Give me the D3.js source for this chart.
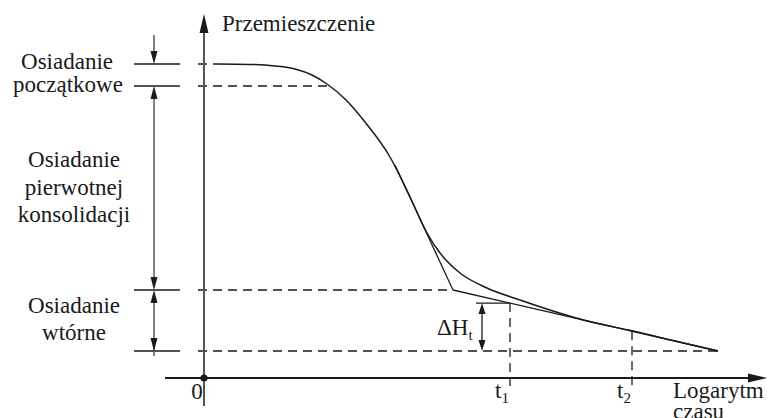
<!DOCTYPE html>
<html>
<head>
<meta charset="utf-8">
<script src="https://cdn.jsdelivr.net/npm/d3@7"></script>
<style>
  html, body { margin: 0; padding: 0; background: #fff; }
  svg { display: block; }
  text { font-family: "Liberation Serif", "DejaVu Serif", "Times New Roman", serif; }
</style>
</head>
<body>
<div id="chart"></div>
<script>
/* settlement vs. log-time schematic (Polish labels) */

/* consolidation curve, log time vs displacement (schematic units) */
var curveT = [1.3, 4.6, 7.1, 9.1, 10.8, 12.3, 14.1, 16.1, 18.6, 20.6, 22.3, 23.6, 25.6, 28.3, 31.6, 34.9, 38.3, 42.9, 47.1, 51.4];
var curveS = [31.4, 31.36, 31.2, 30.9, 30.3, 29.4, 27.9, 25.6, 22.1, 18.1, 14.5, 12.5, 10.5, 9.0, 7.8, 6.7, 5.7, 4.7, 3.7, 2.7];

/* horizontal reference levels: start, end of initial, end of primary, end */
var levels = [31.4, 29.2, 8.8, 2.7];
var levelEnds = [1.3, 12.4, 24.9, 51.4];

/* tangent construction: steep tangent, then secondary tangent */
var steepT = [19.1, 24.9], steepS = [21.3, 8.8];
var secT = [24.9, 51.4], secS = [8.8, 2.7];

/* time marks */
var tMarks = [30.6, 42.8];
var tSubs = ['1', '2'];

var W = 774, H = 418;
var INK = '#1a1a1a';

var x = d3.scaleLinear().domain([0, 56.3]).range([204, 767]);
var y = d3.scaleLinear().domain([0, 36.4]).range([378, 14]);

var svg = d3.select('#chart').append('svg')
  .attr('width', W).attr('height', H);

function line(x1, y1, x2, y2, w, dash, col) {
  var l = svg.append('line')
    .attr('x1', x1).attr('y1', y1).attr('x2', x2).attr('y2', y2)
    .attr('stroke', col || INK).attr('stroke-width', w || 1.3);
  if (dash) l.attr('stroke-dasharray', dash);
  return l;
}

/* filled arrow head with tip at (tx,ty); dir: 'up','down','right' */
function head(tx, ty, dir, len, half) {
  var p;
  if (dir === 'down') p = [[tx, ty], [tx - half, ty - len], [tx + half, ty - len]];
  else if (dir === 'up') p = [[tx, ty], [tx - half, ty + len], [tx + half, ty + len]];
  else p = [[tx, ty], [tx - len, ty - half], [tx - len, ty + half]];
  svg.append('path').attr('d', 'M' + p.join('L') + 'Z').attr('fill', INK);
}

function label(px, py, str, anchor, size) {
  return svg.append('text')
    .attr('x', px).attr('y', py)
    .attr('text-anchor', anchor || 'middle')
    .attr('font-size', size || 23)
    .attr('fill', INK).text(str);
}

/* dashed guides */
var DASH = '9,6';
levels.forEach(function (lv, i) {
  line(x(-0.6), y(lv), x(levelEnds[i]), y(lv), 1.3, DASH);
});
tMarks.forEach(function (t) {
  var sv = secS[0] + (secS[1] - secS[0]) * (t - secT[0]) / (secT[1] - secT[0]);
  line(x(t), y(sv), x(t), y(-0.8), 1.3, DASH);
});

/* axes */
line(x(0), y(-2.8), x(0), y(34.5), 2, null, '#555');
head(x(0), y(36.4), 'up', 19, 4.5);
line(x(-3.9), y(0), x(54.5), y(0), 1.8);
head(x(56.3), y(0), 'right', 19, 4.5);
svg.append('circle').attr('cx', x(0)).attr('cy', y(0)).attr('r', 3.6).attr('fill', INK);

/* curve and tangents */
var pts = curveT.map(function (t, i) { return [x(t), y(curveS[i])]; });
svg.append('path')
  .attr('d', d3.line().curve(d3.curveMonotoneX)(pts))
  .attr('fill', 'none').attr('stroke', INK).attr('stroke-width', 1.5);
line(x(steepT[0]), y(steepS[0]), x(steepT[1]), y(steepS[1]), 1.3);
line(x(secT[0]), y(secS[0]), x(secT[1]), y(secS[1]), 1.3);

/* delta H_t construction */
var s1 = secS[0] + (secS[1] - secS[0]) * (tMarks[0] - secT[0]) / (secT[1] - secT[0]);
var dhT = 27.8;
line(x(dhT) - 6, y(s1), x(tMarks[0]), y(s1), 1.3);
line(x(dhT), y(s1) + 10, x(dhT), y(levels[3]) - 10, 1.3);
head(x(dhT), y(s1), 'up', 11, 3.5);
head(x(dhT), y(levels[3]), 'down', 11, 3.5);
var dh = label(437, 335, 'ΔH', 'start');
dh.append('tspan').attr('dy', 5).attr('font-size', 15).text('t');

/* left dimension lines */
var dimX = 154;
levels.forEach(function (lv) { line(134, y(lv), 180, y(lv), 1.5); });
line(dimX, 35, dimX, y(levels[0]) - 10, 1.5, null, '#555');
head(dimX, y(levels[0]), 'down', 13, 3.5);
line(dimX, y(levels[1]) + 10, dimX, y(levels[2]) - 10, 1.5, null, '#555');
head(dimX, y(levels[1]), 'up', 13, 3.5);
head(dimX, y(levels[2]), 'down', 13, 3.5);
line(dimX, y(levels[2]) + 10, dimX, y(levels[3]) + 5, 1.5, null, '#555');
head(dimX, y(levels[2]), 'up', 13, 3.5);
head(dimX, y(levels[3]), 'down', 13, 3.5);

/* texts */
label(222, 31, 'Przemieszczenie', 'start');
label(67, 69, 'Osiadanie');
label(68, 92, 'początkowe');
label(74, 167, 'Osiadanie');
label(74, 195, 'pierwotnej');
label(74, 222, 'konsolidacji');
label(74, 313, 'Osiadanie');
label(74, 340, 'wtórne');
label(x(0) - 7, 399, '0');

tMarks.forEach(function (t, i) {
  var tl = label(x(t) - 15, 398, 't', 'start');
  tl.append('tspan').attr('dy', 5).attr('font-size', 15).text(tSubs[i]);
});

label(673, 398, 'Logarytm', 'start');
label(673, 419, 'czasu', 'start');
</script>
</body>
</html>
